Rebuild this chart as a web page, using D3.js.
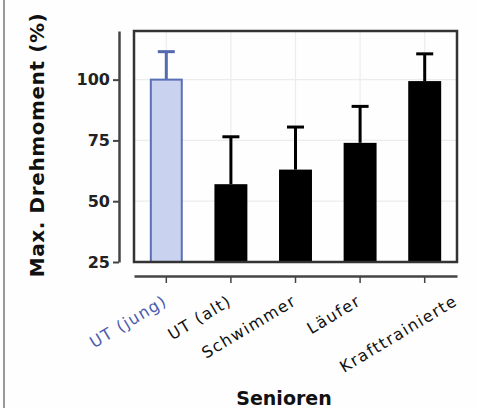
<!DOCTYPE html>
<html>
<head>
<meta charset="utf-8">
<script src="https://cdn.jsdelivr.net/npm/d3@7"></script>
<style>
  body { margin: 0; background: #fff; }
  svg { display: block; }
</style>
</head>
<body>
<svg id="chart"></svg>
<script>
const groups = ["UT (jung)", "UT (alt)", "Schwimmer", "Läufer", "Krafttrainierte"];
const means = [100, 57, 63, 74, 99.4];
const errors = [11.5, 19.5, 17.5, 15, 11.2];
const yTicks = [25, 50, 75, 100];

const width = 477, height = 408;
const frame = { left: 134, right: 457, top: 31, bottom: 262 };

const svg = d3.select("#chart")
  .attr("width", width)
  .attr("height", height);

svg.append("rect")
  .attr("width", width).attr("height", height)
  .attr("fill", "#fefefe");

// left edge of the scanned figure
svg.append("line")
  .attr("x1", 4).attr("x2", 4).attr("y1", 0).attr("y2", height)
  .attr("stroke", "#777").attr("stroke-width", 1.5);

const x = d3.scaleBand()
  .domain(groups)
  .range([frame.left, frame.right])
  .paddingInner(0.49)
  .paddingOuter(0.245);

const y = d3.scaleLinear()
  .domain([25, 120])
  .range([frame.bottom, frame.top]);

const center = d => x(d) + x.bandwidth() / 2;

// faint grid
svg.append("g")
  .selectAll("line.v")
  .data(groups)
  .join("line")
  .attr("x1", d => center(d)).attr("x2", d => center(d))
  .attr("y1", frame.top).attr("y2", frame.bottom)
  .attr("stroke", "#ececec").attr("stroke-width", 1.2);

svg.append("g")
  .selectAll("line.h")
  .data(yTicks.slice(1))
  .join("line")
  .attr("x1", frame.left).attr("x2", frame.right)
  .attr("y1", d => y(d)).attr("y2", d => y(d))
  .attr("stroke", "#ececec").attr("stroke-width", 1.2);

const data = groups.map((g, i) => ({ group: g, mean: means[i], err: errors[i], first: i === 0 }));

// error bars (upper half only, drawn before bars)
const eb = svg.append("g").selectAll("g").data(data).join("g");
eb.append("line")
  .attr("x1", d => center(d.group)).attr("x2", d => center(d.group))
  .attr("y1", d => y(d.mean)).attr("y2", d => y(d.mean + d.err))
  .attr("stroke", d => d.first ? "#5369b0" : "#000")
  .attr("stroke-width", 3);
eb.append("line")
  .attr("x1", d => center(d.group) - 8.5).attr("x2", d => center(d.group) + 8.5)
  .attr("y1", d => y(d.mean + d.err)).attr("y2", d => y(d.mean + d.err))
  .attr("stroke", d => d.first ? "#5369b0" : "#000")
  .attr("stroke-width", 3);

// bars
svg.append("g")
  .selectAll("rect")
  .data(data)
  .join("rect")
  .attr("x", d => x(d.group) + (d.first ? 1 : 0))
  .attr("width", d => x.bandwidth() - (d.first ? 2 : 0))
  .attr("y", d => y(d.mean))
  .attr("height", d => y(25) - y(d.mean))
  .attr("fill", d => d.first ? "#c9d2ee" : "#000")
  .attr("stroke", d => d.first ? "#5a70b6" : "none")
  .attr("stroke-width", 2);

// plot frame
svg.append("rect")
  .attr("x", frame.left).attr("y", frame.top)
  .attr("width", frame.right - frame.left)
  .attr("height", frame.bottom - frame.top)
  .attr("fill", "none")
  .attr("stroke", "#333").attr("stroke-width", 2.5);

// y axis, offset to the left
const yAxis = svg.append("g")
  .attr("transform", "translate(119,0)")
  .call(d3.axisLeft(y).tickValues(yTicks).tickSize(6).tickSizeOuter(0).tickPadding(3));
yAxis.select(".domain").attr("stroke", "#444").attr("stroke-width", 2.5);
yAxis.selectAll(".tick line").attr("stroke", "#444").attr("stroke-width", 2);
yAxis.selectAll(".tick text")
  .attr("font-family", "DejaVu Sans")
  .attr("font-weight", "bold")
  .attr("font-size", 16)
  .attr("fill", "#222");

// x axis, offset below
const labelNudge = { "Krafttrainierte": 32 };
const xAxis = svg.append("g")
  .attr("transform", "translate(0,276)")
  .call(d3.axisBottom(x).tickSize(7).tickSizeOuter(0).tickPadding(0));
xAxis.select(".domain").attr("stroke", "#444").attr("stroke-width", 2.5);
xAxis.selectAll(".tick line").attr("stroke", "#444").attr("stroke-width", 1.5);
xAxis.selectAll(".tick text")
  .attr("font-family", "DejaVu Sans")
  .attr("font-size", 16)
  .attr("letter-spacing", 1.4)
  .attr("text-anchor", "end")
  .attr("y", 0).attr("dy", 0)
  .attr("fill", (d, i) => i === 0 ? "#4a5cab" : "#111")
  .attr("transform", d => `translate(${2 + (labelNudge[d] || 0)},28) rotate(-31)`);

// axis titles
svg.append("text")
  .attr("transform", "translate(44,145) rotate(-90)")
  .attr("text-anchor", "middle")
  .attr("font-family", "DejaVu Sans")
  .attr("font-weight", "bold")
  .attr("font-size", 20)
  .attr("letter-spacing", 0.6)
  .attr("fill", "#111")
  .text("Max. Drehmoment (%)");

svg.append("text")
  .attr("x", 284).attr("y", 405)
  .attr("text-anchor", "middle")
  .attr("font-family", "DejaVu Sans")
  .attr("font-weight", "bold")
  .attr("font-size", 19)
  .attr("fill", "#111")
  .text("Senioren");
</script>
</body>
</html>
